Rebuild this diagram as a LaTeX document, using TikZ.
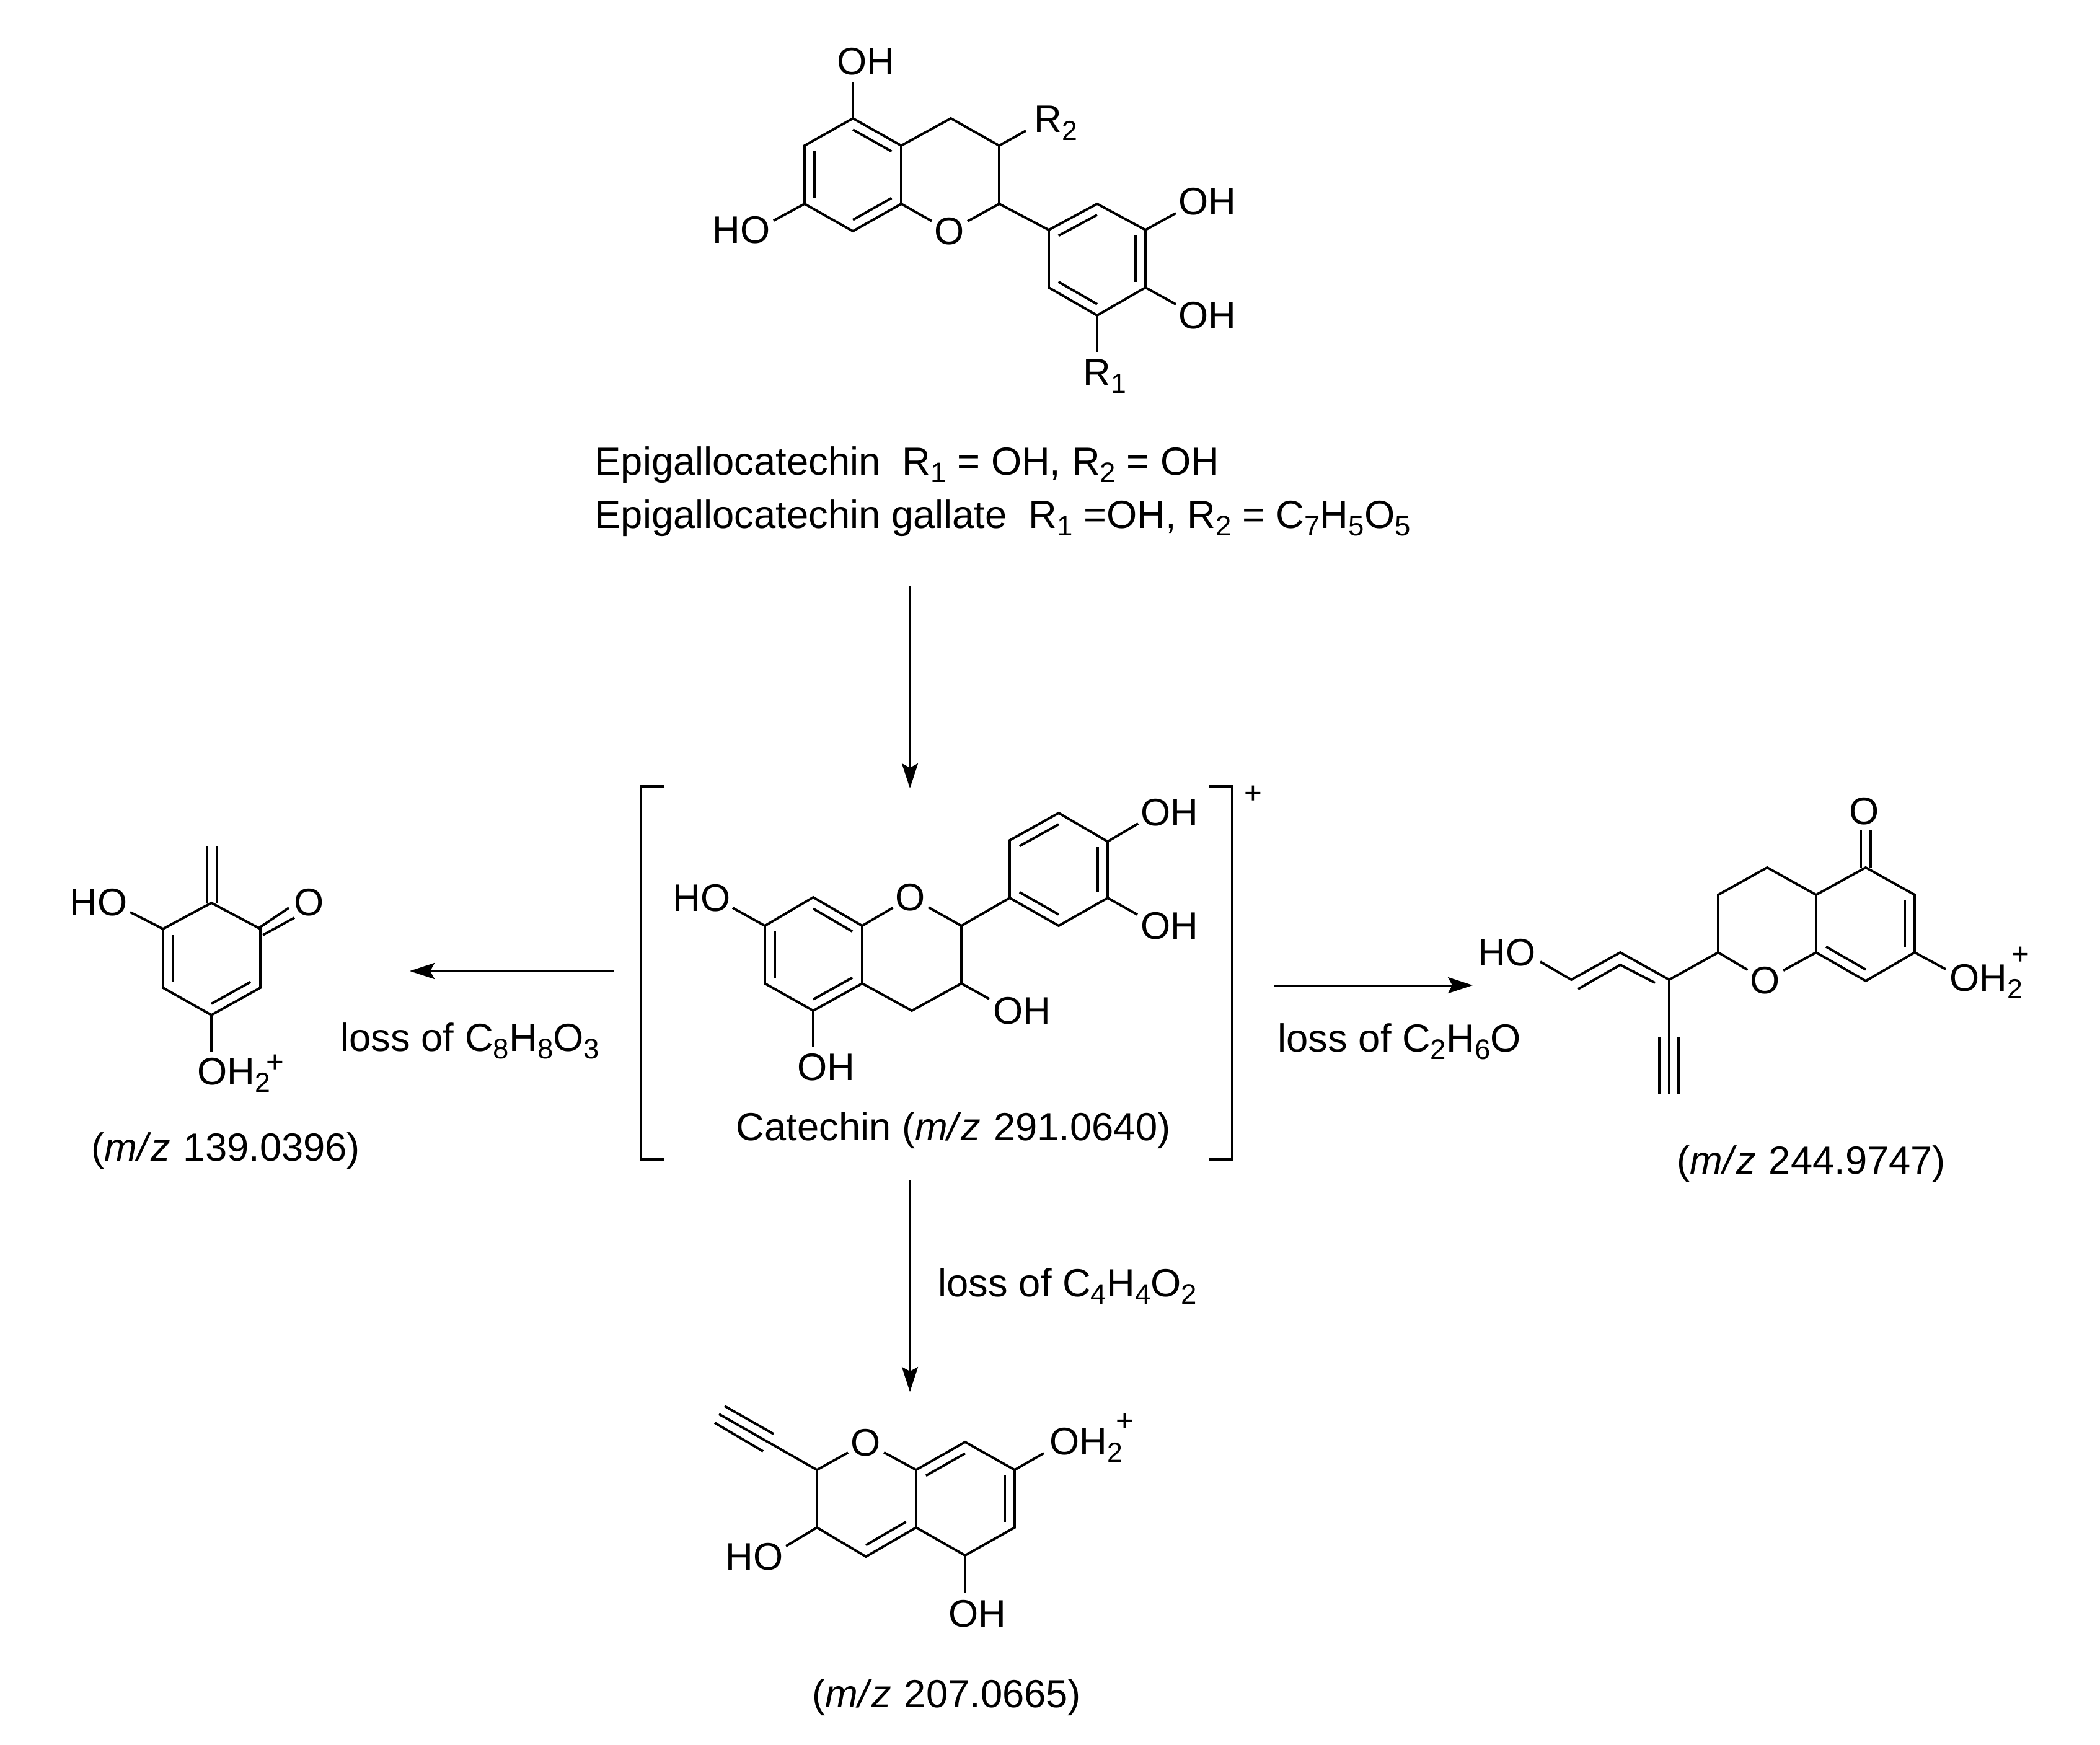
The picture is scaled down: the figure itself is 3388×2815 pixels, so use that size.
\documentclass[tikz,border=0pt]{standalone}
\usepackage{fontspec}
\usepackage{graphicx}
\setmainfont{Liberation Sans}
\usetikzlibrary{arrows.meta, calc}
\tikzset{
  bond/.style={line width=1.1pt},
  rxnArrow/.style={line width=0.85pt, -{Stealth[length=4mm,width=2.6mm,inset=0.7mm]}},
  bracket/.style={line width=1.1pt},
  atomLabel/.style={inner sep=0pt, font=\fontsize{17.6}{21}\selectfont},
  ringOxygen/.style={atomLabel, shape=circle},
  caption/.style={inner sep=0pt, anchor=base west, font=\fontsize{18}{21}\selectfont},
  chargeMark/.style={inner sep=0pt, font=\fontsize{14}{16}\selectfont}
}
\newcommand{\innerBond}[3]
{   \draw[bond] ($(#1)!0.2!(#3)$) -- ($(#2)!0.2!(#3)$);
}
\newcommand{\sbs}[1]{\raisebox{-0.2em}{\scalebox{0.72}{#1}}}
\newcommand{\mz}{\textit{m/\kern0.07em z}\kern0.05em}

\begin{document}
\begin{tikzpicture}[x=0.01cm,y=-0.01cm]
  \useasboundingbox (0,0) rectangle (3388,2815);

  % starting flavan
  \coordinate (ta1) at (1376,191); \coordinate (ta2) at (1298,235); \coordinate (ta3) at (1298,329);
  \coordinate (ta4) at (1376,373); \coordinate (ta5) at (1454,329); \coordinate (ta6) at (1454,235);
  \coordinate (ta0) at (1376,282);
  \coordinate (tc4) at (1534,191); \coordinate (tc3) at (1612,235); \coordinate (tc2) at (1612,329);
  \coordinate (tb1) at (1692,371); \coordinate (tb2) at (1770,329); \coordinate (tb3) at (1848,371);
  \coordinate (tb4) at (1848,464); \coordinate (tb5) at (1770,509); \coordinate (tb6) at (1692,464);
  \coordinate (tb0) at (1770,418);
  \coordinate (te1) at (1376,133); \coordinate (te2) at (1248,356); \coordinate (te3) at (1655,211);
  \coordinate (te4) at (1897,344); \coordinate (te5) at (1897,491); \coordinate (te6) at (1770,568);
  \node[atomLabel] (tOHa) at (1397,99) {OH};
  \node[atomLabel] (tHO) at (1196,371) {HO};
  \node[atomLabel] (tOHb) at (1948,325) {OH};
  \node[atomLabel] (tOHc) at (1948,509) {OH};
  \node[ringOxygen] (tO) at (1532,373) {O};
  \node[atomLabel, anchor=base west] (tR2) at (1668,214) {R\sbs{2}};
  \node[atomLabel, anchor=base west] (tR1) at (1747,622) {R\sbs{1}};
  \draw[bond] (ta1) -- (ta2) -- (ta3) -- (ta4) -- (ta5) -- (ta6) -- cycle;
  \draw[bond] (ta6) -- (tc4) -- (tc3) -- (tc2) -- (tb1) -- (tb2) -- (tb3) -- (tb4) -- (tb5) -- (tb6) -- (tb1);
  \draw[bond] (ta5) -- (tO) -- (tc2);
  \draw[bond] (ta1) -- (te1); \draw[bond] (ta3) -- (te2); \draw[bond] (tc3) -- (te3);
  \draw[bond] (tb3) -- (te4); \draw[bond] (tb4) -- (te5); \draw[bond] (tb5) -- (te6);
  \innerBond{ta1}{ta6}{ta0} \innerBond{ta2}{ta3}{ta0} \innerBond{ta4}{ta5}{ta0}
  \innerBond{tb1}{tb2}{tb0} \innerBond{tb3}{tb4}{tb0} \innerBond{tb5}{tb6}{tb0}
  \node[caption] (capA) at (959,766) {Epigallocatechin\ \ R\sbs{1} = OH, R\sbs{2} = OH};
  \node[caption] (capB) at (959,852) {Epigallocatechin gallate\ \ R\sbs{1} =OH, R\sbs{2} = C\sbs{7}H\sbs{5}O\sbs{5}};

  % catechin ion
  \coordinate (ca1) at (1312,1448); \coordinate (ca2) at (1234,1494); \coordinate (ca3) at (1234,1587);
  \coordinate (ca4) at (1312,1631); \coordinate (ca5) at (1391,1587); \coordinate (ca6) at (1391,1494);
  \coordinate (ca0) at (1312,1540);
  \coordinate (cc2) at (1551,1494); \coordinate (cc3) at (1551,1587); \coordinate (cc4) at (1471,1631);
  \coordinate (cb1) at (1629,1449); \coordinate (cb2) at (1629,1356); \coordinate (cb3) at (1708,1312);
  \coordinate (cb4) at (1787,1358); \coordinate (cb5) at (1787,1449); \coordinate (cb6) at (1708,1494);
  \coordinate (cb0) at (1708,1403);
  \coordinate (ce1) at (1596,1612); \coordinate (ce2) at (1312,1689); \coordinate (ce3) at (1182,1465);
  \coordinate (ce4) at (1836,1329); \coordinate (ce5) at (1835,1476);
  \node[atomLabel] (cOHa) at (1649,1631) {OH};
  \node[atomLabel] (cOHb) at (1333,1722) {OH};
  \node[atomLabel] (cHO) at (1132,1449) {HO};
  \node[atomLabel] (cOHc) at (1887,1311) {OH};
  \node[atomLabel] (cOHd) at (1887,1494) {OH};
  \node[ringOxygen] (cO) at (1469,1448) {O};
  \draw[bond] (ca1) -- (ca2) -- (ca3) -- (ca4) -- (ca5) -- (ca6) -- cycle;
  \draw[bond] (ca5) -- (cc4) -- (cc3) -- (cc2) -- (cb1) -- (cb2) -- (cb3) -- (cb4) -- (cb5) -- (cb6) -- (cb1);
  \draw[bond] (ca6) -- (cO) -- (cc2);
  \draw[bond] (cc3) -- (ce1); \draw[bond] (ca4) -- (ce2); \draw[bond] (ca2) -- (ce3);
  \draw[bond] (cb4) -- (ce4); \draw[bond] (cb5) -- (ce5);
  \innerBond{ca1}{ca6}{ca0} \innerBond{ca2}{ca3}{ca0} \innerBond{ca4}{ca5}{ca0}
  \innerBond{cb2}{cb3}{cb0} \innerBond{cb4}{cb5}{cb0} \innerBond{cb1}{cb6}{cb0}
  \node[caption] (capC) at (1187,1840) {Catechin (\mz{} 291.0640)};
  \coordinate (bl1) at (1072,1269); \coordinate (bl2) at (1034,1269);
  \coordinate (bl3) at (1034,1871); \coordinate (bl4) at (1072,1871);
  \coordinate (br1) at (1951,1269); \coordinate (br2) at (1988,1269);
  \coordinate (br3) at (1988,1871); \coordinate (br4) at (1951,1871);
  \draw[bracket] (bl1) -- (bl2) -- (bl3) -- (bl4);
  \draw[bracket] (br1) -- (br2) -- (br3) -- (br4);
  \node[chargeMark] (cPlus) at (2022,1282) {+};

  % m/z 139
  \coordinate (la1) at (341,1457); \coordinate (la2) at (263,1499); \coordinate (la3) at (263,1594);
  \coordinate (la4) at (341,1638); \coordinate (la5) at (420,1594); \coordinate (la6) at (420,1499);
  \coordinate (la0) at (341,1547);
  \coordinate (lm1) at (334,1457); \coordinate (lm2) at (334,1365);
  \coordinate (lm3) at (350,1457); \coordinate (lm4) at (350,1365);
  \coordinate (lk1) at (417,1498); \coordinate (lk2) at (466,1465);
  \coordinate (lk3) at (424,1509); \coordinate (lk4) at (475,1481);
  \coordinate (le1) at (210,1472); \coordinate (le2) at (341,1697);
  \node[atomLabel] (lHO) at (159,1456) {HO};
  \node[atomLabel] (lO) at (499,1456) {O};
  \node[atomLabel, anchor=base west] (lOH) at (318,1750) {OH\sbs{2}};
  \node[chargeMark] (lPlus) at (444,1716) {+};
  \draw[bond] (la1) -- (la2) -- (la3) -- (la4) -- (la5) -- (la6) -- cycle;
  \draw[bond] (lm1) -- (lm2); \draw[bond] (lm3) -- (lm4);
  \draw[bond] (lk1) -- (lk2); \draw[bond] (lk3) -- (lk4);
  \draw[bond] (la2) -- (le1); \draw[bond] (la4) -- (le2);
  \innerBond{la2}{la3}{la0} \innerBond{la4}{la5}{la0}
  \node[caption] (capL) at (147,1873) {(\mz{} 139.0396)};

  % m/z 244
  \coordinate (ra1) at (3010,1400); \coordinate (ra2) at (3089,1444); \coordinate (ra3) at (3089,1537);
  \coordinate (ra4) at (3010,1583); \coordinate (ra5) at (2930,1537); \coordinate (ra6) at (2930,1444);
  \coordinate (ra0) at (3010,1491);
  \coordinate (rc4) at (2851,1400); \coordinate (rc3) at (2772,1444); \coordinate (rc2) at (2772,1537);
  \coordinate (rv1) at (2693,1581); \coordinate (rv2) at (2614,1537); \coordinate (rv3) at (2535,1581);
  \coordinate (rw1) at (2670,1586); \coordinate (rw2) at (2614,1557); \coordinate (rw3) at (2546,1596);
  \coordinate (ry1) at (2693,1765);
  \coordinate (ry2) at (2677,1673); \coordinate (ry3) at (2677,1765);
  \coordinate (ry4) at (2708,1673); \coordinate (ry5) at (2708,1765);
  \coordinate (rk1) at (3002,1401); \coordinate (rk2) at (3002,1339);
  \coordinate (rk3) at (3018,1401); \coordinate (rk4) at (3018,1339);
  \coordinate (re1) at (2485,1552); \coordinate (re2) at (3139,1564);
  \node[atomLabel] (rHO) at (2431,1537) {HO};
  \node[atomLabel] (rOk) at (3008,1309) {O};
  \node[ringOxygen] (rO) at (2848,1582) {O};
  \node[atomLabel, anchor=base west] (rOH) at (3145,1599) {OH\sbs{2}};
  \node[chargeMark] (rPlus) at (3260,1542) {+};
  \draw[bond] (ra1) -- (ra2) -- (ra3) -- (ra4) -- (ra5) -- (ra6) -- cycle;
  \draw[bond] (ra6) -- (rc4) -- (rc3) -- (rc2) -- (rv1) -- (rv2) -- (rv3) -- (re1);
  \draw[bond] (ra5) -- (rO) -- (rc2);
  \draw[bond] (rw1) -- (rw2) -- (rw3);
  \draw[bond] (rv1) -- (ry1); \draw[bond] (ry2) -- (ry3); \draw[bond] (ry4) -- (ry5);
  \draw[bond] (rk1) -- (rk2); \draw[bond] (rk3) -- (rk4);
  \draw[bond] (ra3) -- (re2);
  \innerBond{ra2}{ra3}{ra0} \innerBond{ra4}{ra5}{ra0}
  \node[caption] (capR) at (2705,1894) {(\mz{} 244.9747)};

  % m/z 207
  \coordinate (ba1) at (1478,2372); \coordinate (ba2) at (1557,2327); \coordinate (ba3) at (1637,2372);
  \coordinate (ba4) at (1637,2465); \coordinate (ba5) at (1557,2510); \coordinate (ba6) at (1478,2465);
  \coordinate (ba0) at (1557,2419); \coordinate (bc0) at (1397,2419);
  \coordinate (bc2) at (1318,2372); \coordinate (bc3) at (1318,2465); \coordinate (bc4) at (1397,2512);
  \coordinate (by1) at (1160,2282); \coordinate (by2) at (1169,2269); \coordinate (by3) at (1248,2314);
  \coordinate (by4) at (1153,2296); \coordinate (by5) at (1231,2342);
  \coordinate (be1) at (1268,2495); \coordinate (be2) at (1557,2570); \coordinate (be3) at (1684,2345);
  \node[atomLabel] (bHO) at (1217,2512) {HO};
  \node[atomLabel] (bOH) at (1577,2604) {OH};
  \node[ringOxygen] (bO) at (1397,2328) {O};
  \node[atomLabel, anchor=base west] (bOHb) at (1693,2347) {OH\sbs{2}};
  \node[chargeMark] (bPlus) at (1815,2295) {+};
  \draw[bond] (ba1) -- (ba2) -- (ba3) -- (ba4) -- (ba5) -- (ba6) -- cycle;
  \draw[bond] (ba6) -- (bc4) -- (bc3) -- (bc2) -- (by1);
  \draw[bond] (ba1) -- (bO) -- (bc2);
  \draw[bond] (by2) -- (by3); \draw[bond] (by4) -- (by5);
  \draw[bond] (bc3) -- (be1); \draw[bond] (ba5) -- (be2); \draw[bond] (ba3) -- (be3);
  \innerBond{ba1}{ba2}{ba0} \innerBond{ba3}{ba4}{ba0} \innerBond{ba6}{bc4}{bc0}
  \node[caption] (capB2) at (1310,2755) {(\mz{} 207.0665)};

  % reaction arrows
  \coordinate (sa) at (1468,946); \coordinate (ea) at (1468,1272);
  \coordinate (sb) at (1468,1905); \coordinate (eb) at (1468,2246);
  \coordinate (sl) at (990,1567); \coordinate (el) at (661,1567);
  \coordinate (sr) at (2055,1590); \coordinate (er) at (2376,1590);
  \draw[rxnArrow] (sa) -- (ea);
  \draw[rxnArrow] (sb) -- (eb);
  \draw[rxnArrow] (sl) -- (el);
  \draw[rxnArrow] (sr) -- (er);
  \node[caption] (lossL) at (549,1696) {loss of C\sbs{8}H\sbs{8}O\sbs{3}};
  \node[caption] (lossR) at (2061,1697) {loss of C\sbs{2}H\sbs{6}O};
  \node[caption] (lossB) at (1513,2092) {loss of C\sbs{4}H\sbs{4}O\sbs{2}};
\end{tikzpicture}
\end{document}
